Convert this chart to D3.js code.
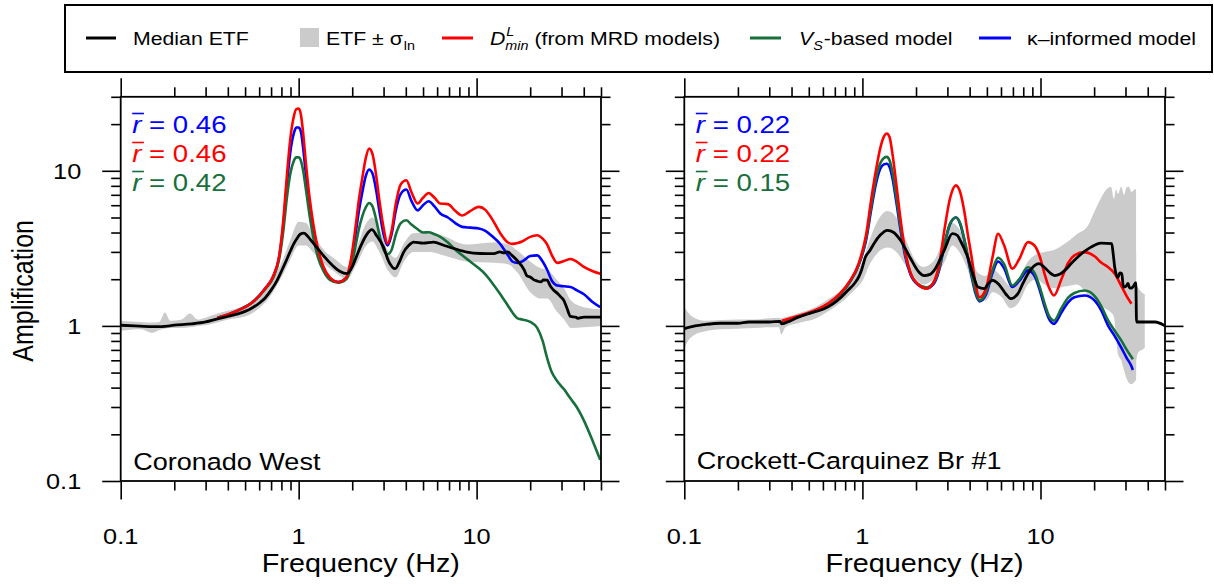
<!DOCTYPE html>
<html lang="en">
<head>
<meta charset="utf-8">
<title>Empirical vs. modelled site amplification</title>
<script src="https://cdn.jsdelivr.net/npm/d3@7/dist/d3.min.js"></script>
<style>
  html, body { margin: 0; padding: 0; background: #fff; }
  svg { display: block; }
  text { font-family: "Liberation Sans", Arial, Helvetica, sans-serif; }
</style>
</head>
<body>
<svg id="chart" width="1214" height="588"></svg>
<script>
// ---------------- data ----------------
// Coronado West
const coronadoModelFreq = [0.35,0.45,0.55,0.65,0.72,0.78,0.82,0.86,0.9,0.94,
  0.97,1.0,1.03,1.06,1.1,1.15,1.21,1.28,1.38,1.5,
  1.67,1.85,1.97,2.08,2.18,2.28,2.38,2.49,2.6,2.72,
  2.85,3.0,3.16,3.33,3.52,3.75,4.03,4.3,4.66,5.0,
  5.37,5.8,6.25,6.9,7.6,8.3,9.2,10.3,11.2,12.2,
  13.5,15.0,15.9,17.0,18.0,20.0,21.9,23.5,24.9,26.5,
  28.4,31,33.7,36.5,40.1,45,49.5];
const coronadoDmin = [1.13,1.25,1.42,1.75,2.1,2.9,4.8,9.5,16.5,22.5,
  25,25.2,23,17.5,11,6.8,4.5,3.2,2.4,2.05,
  1.92,2.05,2.7,4.2,6.5,9.0,12.0,13.9,12.8,9.5,
  6.3,4.3,3.4,4.1,6.2,8.2,8.7,7.3,6.15,6.7,
  7.2,6.7,6.15,6.1,5.5,5.15,5.5,5.85,5.6,4.9,
  4.0,3.45,3.38,3.42,3.5,3.75,3.84,3.65,3.35,2.85,
  2.55,2.62,2.7,2.6,2.4,2.25,2.17];
const coronadoKappa = [1.13,1.25,1.42,1.75,2.08,2.85,4.5,8.3,13.5,17.5,
  19,19.0,17.8,14,9.3,6.0,4.1,3.0,2.35,2.02,
  1.92,2.03,2.6,3.8,5.5,7.3,9.2,10.2,9.6,7.6,
  5.4,3.9,3.3,3.9,5.6,7.1,7.57,6.4,5.56,6.0,
  6.36,5.9,5.3,5.0,4.6,4.35,4.3,4.25,4.1,3.8,
  3.4,2.85,2.6,2.55,2.6,2.82,2.85,2.6,2.3,1.95,
  1.82,1.8,1.78,1.7,1.6,1.42,1.32];
const coronadoVs = [1.13,1.25,1.42,1.73,2.05,2.75,4.1,6.8,9.7,11.6,
  12.2,12.2,11.6,10,7.5,5.2,3.7,2.8,2.25,1.98,
  1.9,2.0,2.4,3.2,4.2,5.1,5.8,6.2,5.9,4.9,
  3.8,3.1,2.9,3.1,3.9,4.6,4.8,4.5,4.2,4.0,
  4.02,3.9,3.75,3.45,3.1,2.85,2.6,2.35,2.15,1.9,
  1.62,1.35,1.22,1.12,1.1,1.06,0.97,0.8,0.62,0.5,
  0.44,0.39,0.34,0.3,0.245,0.18,0.137];
const coronadoEtfFreq = [0.1,0.12,0.15,0.17,0.2,0.25,0.3,0.35,0.4,0.45,
  0.5,0.55,0.6,0.65,0.7,0.75,0.8,0.85,0.9,0.935,
  0.97,1.02,1.07,1.12,1.2,1.3,1.4,1.55,1.7,1.87,
  2.0,2.1,2.22,2.4,2.58,2.75,3.0,3.2,3.49,3.7,
  3.89,4.15,4.43,5.0,5.73,6.53,7.5,8.84,10.5,12.5,
  13.5,14.2,14.9,15.8,16.9,18.5,19.2,20.1,21,21.8,
  22.9,23.8,24.9,26,27.2,28.5,29.5,30.9,32.2,33.7,
  36,37,40.1,45,50];
const coronadoEtfMedian = [1.01,1.0,0.99,0.99,1.01,1.03,1.06,1.11,1.15,1.19,
  1.24,1.31,1.4,1.52,1.7,1.93,2.25,2.62,3.05,3.35,
  3.6,3.9,3.97,3.8,3.45,3.08,2.78,2.45,2.25,2.17,
  2.4,2.75,3.22,3.85,4.17,3.8,3.22,2.62,2.34,2.62,
  2.99,3.3,3.47,3.42,3.47,3.31,3.15,2.99,2.93,2.92,
  3.0,2.96,3.0,2.85,2.64,2.3,2.1,2.06,1.98,1.95,
  1.92,1.98,1.97,1.8,1.69,1.62,1.55,1.46,1.3,1.15,
  1.14,1.12,1.14,1.14,1.14];
const coronadoBandFreq = [0.1,0.13,0.15,0.165,0.177,0.19,0.22,0.245,0.27,0.3,
  0.35,0.4,0.5,0.6,0.7,0.8,0.9,1.0,1.1,1.2,
  1.4,1.6,1.87,2.1,2.4,2.6,2.8,3.2,3.5,3.9,
  4.4,5.5,6.5,8.8,12.5,15,17,20,23,25,
  28,31,34,40,50];
const coronadoBandLo = [0.93,0.95,0.9,0.94,0.96,0.97,0.97,0.98,1.0,1.01,
  1.05,1.1,1.15,1.3,1.58,2.05,2.7,3.3,3.3,3.0,
  2.5,2.22,2.0,2.45,3.3,3.5,3.1,2.25,2.05,2.6,
  3.0,3.0,2.85,2.6,2.55,2.5,2.2,1.65,1.5,1.5,
  1.25,1.1,0.97,0.98,1.0];
const coronadoBandHi = [1.08,1.06,1.05,1.06,1.22,1.08,1.1,1.2,1.1,1.13,
  1.2,1.25,1.36,1.55,1.9,2.55,3.6,4.7,4.6,3.9,
  3.05,2.7,2.4,3.1,4.6,5.0,4.4,3.0,2.75,3.4,
  3.95,4.0,3.8,3.35,3.45,3.35,3.05,2.6,2.35,2.3,
  2.0,1.75,1.45,1.32,1.28];
const coronadoRbar = [0.46, 0.46, 0.42];   // kappa, Dmin, Vs

// Crockett-Carquinez Br #1
const crockettModelFreq = [0.354,0.45,0.55,0.65,0.75,0.85,0.95,1.05,1.12,1.19,
  1.26,1.32,1.37,1.42,1.48,1.55,1.64,1.74,1.86,2.04,
  2.3,2.5,2.7,2.9,3.1,3.35,3.55,3.73,3.92,4.1,
  4.3,4.55,4.95,5.38,5.78,6.25,6.95,7.6,8.5,9.25,
  9.9,10.5,11.2,11.9,13.1,14.3,15.5,17.7,20.2,22,
  24,26.1,28.5,30.5,32.4,33];
const crockettDmin = [1.08,1.17,1.27,1.41,1.62,1.95,2.5,3.9,6.5,10,
  14,16.6,17.4,16.5,12.5,8.2,4.8,3.0,2.2,1.87,
  1.74,1.9,2.5,4.3,6.6,8.06,7.2,5.5,3.8,2.8,
  1.9,1.53,1.75,2.78,3.93,3.3,2.34,2.7,3.47,3.3,
  2.8,2.2,1.75,1.57,2.0,2.55,2.85,2.99,2.8,2.55,
  2.39,2.17,1.8,1.55,1.39];
const crockettKappa = [1.07,1.16,1.26,1.4,1.6,1.92,2.45,3.6,5.6,8.2,
  10.3,11.0,11.1,10.6,8.8,6.3,4.1,2.8,2.15,1.85,
  1.75,1.85,2.3,3.4,4.5,5.0,4.5,3.6,2.7,2.1,
  1.65,1.44,1.6,2.2,2.6,2.35,1.78,1.95,2.28,2.1,
  1.7,1.35,1.1,1.03,1.22,1.42,1.53,1.57,1.45,1.25,
  1.0,0.86,0.72,0.62,0.55,0.52];
const crockettVs = [1.07,1.16,1.26,1.4,1.6,1.92,2.45,3.7,5.9,8.8,
  11.2,12.1,12.3,11.7,9.6,6.8,4.3,2.9,2.2,1.87,
  1.77,1.88,2.35,3.45,4.55,5.0,4.55,3.65,2.75,2.15,
  1.7,1.46,1.65,2.3,2.75,2.5,1.82,2.0,2.39,2.2,
  1.78,1.42,1.15,1.08,1.3,1.52,1.63,1.69,1.55,1.33,
  1.08,0.93,0.8,0.7,0.63,0.61];
const crockettEtfFreq = [0.1,0.115,0.13,0.16,0.2,0.23,0.3,0.345,0.352,0.38,
  0.43,0.5,0.61,0.68,0.76,0.83,0.9,0.96,0.99,1.04,
  1.1,1.16,1.26,1.38,1.5,1.64,1.87,2.08,2.22,2.4,
  2.53,2.88,3.2,3.4,3.57,3.9,4.2,4.45,4.83,5.1,
  5.38,5.7,6.0,6.4,6.8,7.45,8.0,8.5,9.25,9.8,
  10.5,11.2,12.0,12.8,13.7,15,16.2,17.5,19.2,20.5,
  21.9,25.1,25.6,26.1,27.2,27.9,28.6,29.2,30.2,31,
  31.6,32.3,33.2,34.3,34.6,40,44,50];
const crockettEtfMedian = [0.96,1.0,1.02,1.04,1.04,1.06,1.06,1.07,1.03,1.06,
  1.13,1.2,1.29,1.38,1.53,1.7,1.87,2.1,2.3,2.78,
  3.05,3.39,3.85,4.13,4.0,3.55,2.7,2.22,2.11,2.15,
  2.28,3.07,3.93,3.85,3.5,2.78,2.1,1.78,1.74,1.88,
  1.97,1.9,1.78,1.6,1.5,1.61,1.9,2.17,2.45,2.52,
  2.39,2.22,2.11,2.15,2.28,2.55,2.78,3.0,3.22,3.35,
  3.42,3.39,2.9,2.39,2.05,2.2,2.17,1.78,1.8,1.88,
  1.76,1.75,1.8,1.9,1.06,1.06,1.06,1.0];
const crockettBandFreq = [0.1,0.105,0.115,0.13,0.16,0.2,0.25,0.3,0.34,0.35,
  0.37,0.45,0.55,0.65,0.76,0.9,1.0,1.1,1.2,1.38,
  1.55,1.75,2.0,2.2,2.5,2.9,3.2,3.5,3.9,4.45,
  4.9,5.4,6.0,6.8,7.5,8.5,9.5,10.5,12,14,
  16,18.4,20,21.9,23.5,24.9,25.8,26.6,27.2,28.4,
  29.4,30.4,31.3,32.5,33.9,34.4,34.5,35.5,37,38.5];
const crockettBandLo = [0.72,0.8,0.88,0.92,0.95,0.96,0.97,0.98,0.98,0.88,
  0.98,1.05,1.12,1.25,1.42,1.7,1.95,2.5,2.9,3.2,
  3.0,2.45,2.0,1.85,2.0,2.6,3.3,3.0,2.3,1.45,
  1.45,1.65,1.55,1.3,1.4,1.85,2.0,1.85,1.75,1.8,
  1.85,1.6,1.5,1.35,1.28,1.22,1.15,0.85,0.66,0.6,
  0.52,0.46,0.43,0.42,0.44,0.45,0.6,0.68,0.7,0.72];
const crockettBandHi = [1.32,1.22,1.12,1.08,1.09,1.1,1.1,1.12,1.13,1.12,
  1.14,1.22,1.33,1.5,1.7,2.1,2.6,3.6,4.6,5.5,
  5.0,3.6,2.6,2.4,2.6,3.7,4.6,4.2,3.3,2.2,
  2.1,2.3,2.1,1.8,2.0,2.6,2.9,3.0,3.1,3.45,
  3.9,4.4,5.4,6.7,7.6,7.9,6.6,7.6,7.1,7.9,
  7.0,7.8,7.9,7.3,7.6,7.6,1.85,1.75,1.65,1.6];
const crockettRbar = [0.22, 0.22, 0.15];   // kappa, Dmin, Vs

const xTickLabels = [0.1, 1, 10];
const yTickLabels = [0.1, 1, 10];

// ---------------- layout & style ----------------
const PLOT_TOP = 96.8, PLOT_BOTTOM = 481;
const SX = 1.15;                       // horizontal stretch applied to all text
const xDomain = [0.1, 50], yDomain = [0.1, 30];
const colors = { median: "#000000", band: "#cbcbcb", dmin: "#ff0000", vs: "#17703b", kappa: "#0000ff" };
const rbarKeys = ["kappa", "dmin", "vs"];

// minor ticks: 2..9 in every decade inside the domain
function minorTicks(domain) {
  const out = [];
  for (let d = 0.1; d < domain[1]; d *= 10) {
    for (let k = 2; k <= 9; k++) {
      const v = +(k * d).toPrecision(3);
      if (v <= domain[1] + 1e-9) out.push(v);
    }
  }
  return out;
}
const xMinor = minorTicks(xDomain);
const yMinor = minorTicks(yDomain);

const svg = d3.select("#chart");

function addText(parent, x, y, str, opts = {}) {
  const t = parent.append("text")
    .attr("transform", `translate(${x},${y}) scale(${SX},1)`)
    .attr("font-size", opts.size || 18.5)
    .attr("text-anchor", opts.anchor || "start")
    .attr("fill", opts.fill || "#000");
  if (opts.italic) t.attr("font-style", "italic");
  if (str !== null) t.text(str);
  return t;
}
function textWidth(t) { return t.node().getComputedTextLength() * SX; }

function zipPoints(freq, vals) {
  return vals.map((v, i) => ({ f: freq[i], a: v }));
}

// ---------------- legend ----------------
(function drawLegend() {
  const lg = svg.append("g");
  lg.append("rect").attr("x", 65).attr("y", 5).attr("width", 1147).attr("height", 67)
    .attr("fill", "#fff").attr("stroke", "#000").attr("stroke-width", 2);
  const LY = 38, LB = 45;
  const swatch = (x1, x2, c) => lg.append("line").attr("x1", x1).attr("x2", x2)
    .attr("y1", LY).attr("y2", LY).attr("stroke", c).attr("stroke-width", 3);

  swatch(86, 116, colors.median);
  addText(lg, 133, LB, "Median ETF");

  lg.append("rect").attr("x", 300).attr("y", 28).attr("width", 19).attr("height", 19).attr("fill", colors.band);
  let t = addText(lg, 326, LB, "ETF ± σ");
  addText(lg, 326 + textWidth(t) + 1, LB + 5, "ln", { size: 12.5 });

  swatch(442, 473, colors.dmin);
  t = addText(lg, 490, LB, "D", { italic: true });
  const wD = textWidth(t);
  const sup = addText(lg, 490 + wD + 1, LB - 9, "L", { size: 12.5, italic: true });
  const sub = addText(lg, 490 + wD, LB + 4.5, "min", { size: 12.5, italic: true });
  addText(lg, 490 + wD + Math.max(textWidth(sup) + 1, textWidth(sub)) + 6, LB, "(from MRD models)");

  swatch(750, 781, colors.vs);
  t = addText(lg, 799, LB, "V", { italic: true });
  const s = addText(lg, 799 + textWidth(t), LB + 4.5, "S", { size: 12.5, italic: true });
  addText(lg, 799 + textWidth(t) + textWidth(s) + 1, LB, "-based model");

  swatch(979, 1011, colors.kappa);
  addText(lg, 1027, LB, "κ–informed model");
})();

// ---------------- panels ----------------
const panels = [
  { id: "coronado", label: "Coronado West", x0: 120.7, x1: 601, yLabels: true, labelY: 470,
    modelFreq: coronadoModelFreq, dmin: coronadoDmin, vs: coronadoVs, kappa: coronadoKappa,
    etfFreq: coronadoEtfFreq, etf: coronadoEtfMedian,
    bandFreq: coronadoBandFreq, bandLo: coronadoBandLo, bandHi: coronadoBandHi,
    rbar: coronadoRbar },
  { id: "crockett", label: "Crockett-Carquinez Br #1", x0: 684.3, x1: 1165, yLabels: false, labelY: 469,
    modelFreq: crockettModelFreq, dmin: crockettDmin, vs: crockettVs, kappa: crockettKappa,
    etfFreq: crockettEtfFreq, etf: crockettEtfMedian,
    bandFreq: crockettBandFreq, bandLo: crockettBandLo, bandHi: crockettBandHi,
    rbar: crockettRbar }
];

panels.forEach(p => {
  const x = d3.scaleLog().domain(xDomain).range([p.x0, p.x1]);
  const y = d3.scaleLog().domain(yDomain).range([PLOT_BOTTOM, PLOT_TOP]);
  const g = svg.append("g").attr("class", "panel " + p.id);

  const clipId = "clip-" + p.id;
  g.append("clipPath").attr("id", clipId).append("rect")
    .attr("x", p.x0).attr("y", PLOT_TOP).attr("width", p.x1 - p.x0).attr("height", PLOT_BOTTOM - PLOT_TOP);
  const plot = g.append("g").attr("clip-path", `url(#${clipId})`);

  // ETF ± sigma band
  const band = p.bandFreq.map((f, i) => ({ f, lo: p.bandLo[i], hi: p.bandHi[i] }));
  plot.append("path").datum(band)
    .attr("d", d3.area().x(d => x(d.f)).y0(d => y(d.lo)).y1(d => y(d.hi)).curve(d3.curveMonotoneX))
    .attr("fill", colors.band);

  const line = d3.line().x(d => x(d.f)).y(d => y(d.a)).curve(d3.curveMonotoneX);
  [["kappa", p.kappa], ["vs", p.vs], ["dmin", p.dmin]].forEach(([key, vals]) => {
    plot.append("path").datum(zipPoints(p.modelFreq, vals))
      .attr("d", line).attr("fill", "none").attr("stroke", colors[key])
      .attr("stroke-width", 2.6).attr("stroke-linejoin", "round");
  });
  plot.append("path").datum(zipPoints(p.etfFreq, p.etf))
    .attr("d", line).attr("fill", "none").attr("stroke", colors.median)
    .attr("stroke-width", 2.8).attr("stroke-linejoin", "round");

  // axes: ticks point outward on all four sides
  const axes = g.append("g").attr("class", "axes");
  const put = (axis, tr) => axes.append("g").attr("transform", tr).call(axis)
    .call(a => a.select(".domain").remove())
    .call(a => a.selectAll("line").attr("stroke-width", 1.6));
  const MAJ = 18.5, MIN = 9.5;
  put(d3.axisBottom(x).tickValues(xTickLabels).tickSize(MAJ).tickFormat(""), `translate(0,${PLOT_BOTTOM})`);
  put(d3.axisBottom(x).tickValues(xMinor).tickSize(MIN).tickFormat(""), `translate(0,${PLOT_BOTTOM})`);
  put(d3.axisTop(x).tickValues(xTickLabels).tickSize(MAJ).tickFormat(""), `translate(0,${PLOT_TOP})`);
  put(d3.axisTop(x).tickValues(xMinor).tickSize(MIN).tickFormat(""), `translate(0,${PLOT_TOP})`);
  put(d3.axisLeft(y).tickValues(yTickLabels).tickSize(MAJ).tickFormat(""), `translate(${p.x0},0)`);
  put(d3.axisLeft(y).tickValues(yMinor).tickSize(MIN).tickFormat(""), `translate(${p.x0},0)`);
  put(d3.axisRight(y).tickValues(yTickLabels).tickSize(MAJ).tickFormat(""), `translate(${p.x1},0)`);
  put(d3.axisRight(y).tickValues(yMinor).tickSize(MIN).tickFormat(""), `translate(${p.x1},0)`);

  g.append("rect").attr("x", p.x0).attr("y", PLOT_TOP)
    .attr("width", p.x1 - p.x0).attr("height", PLOT_BOTTOM - PLOT_TOP)
    .attr("fill", "none").attr("stroke", "#000").attr("stroke-width", 1.8);

  const fmt = d3.format("~g");
  xTickLabels.forEach(v => addText(g, x(v), 544, fmt(v), { size: 22, anchor: "middle" }));
  if (p.yLabels) {
    yTickLabels.forEach(v => addText(g, p.x0 - 39.5, y(v) + 8, fmt(v), { size: 22, anchor: "end" }));
  }

  addText(g, (p.x0 + p.x1) / 2, 572, "Frequency (Hz)", { size: 25, anchor: "middle" });

  // correlation labels
  p.rbar.forEach((v, i) => {
    const base = 133 + i * 29;
    const c = colors[rbarKeys[i]];
    const tx = p.x0 + 11.5;
    const t = addText(g, tx, base, null, { size: 24, fill: c });
    t.append("tspan").attr("font-style", "italic").text("r");
    t.append("tspan").text(" = " + v.toFixed(2));
    const wr = t.node().getSubStringLength(0, 1) * SX;
    g.append("line").attr("x1", tx).attr("x2", tx + wr + 2.5)
      .attr("y1", base - 19.5).attr("y2", base - 19.5)
      .attr("stroke", c).attr("stroke-width", 1.6);
  });

  addText(g, p.x0 + 12.5, p.labelY, p.label, { size: 23.5 });
});

// y-axis title
svg.append("text")
  .attr("transform", `translate(33,${(PLOT_TOP + PLOT_BOTTOM) / 2 + 2}) scale(${SX},1) rotate(-90)`)
  .attr("text-anchor", "middle").attr("font-size", 25).attr("fill", "#000")
  .text("Amplification");
</script>
</body>
</html>
